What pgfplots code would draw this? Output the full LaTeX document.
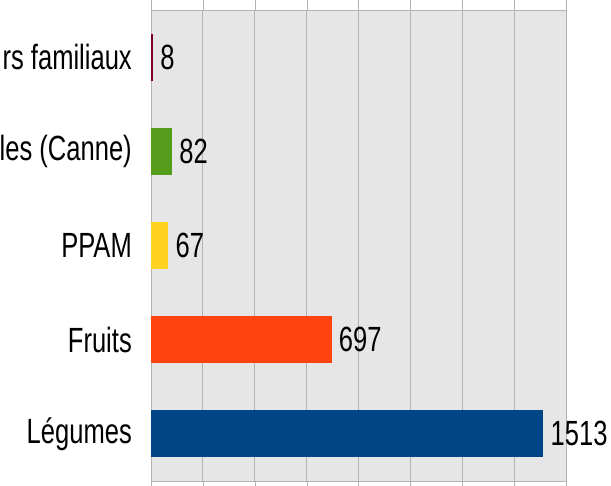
\documentclass[border=0pt]{standalone}
\usepackage{pgfplots}
\pgfplotsset{compat=1.18}
\usepackage{fontspec}
\setmainfont{Liberation Sans}[FakeStretch=0.73]
\definecolor{cRed}{HTML}{7E0021}
\definecolor{cGreen}{HTML}{579D1C}
\definecolor{cYellow}{HTML}{FFD320}
\definecolor{cOrange}{HTML}{FF420E}
\definecolor{cBlue}{HTML}{004586}
\definecolor{cBack}{HTML}{E6E6E6}
\definecolor{cGrid}{HTML}{B3B3B3}
\begin{document}
\begin{tikzpicture}
\useasboundingbox (0,0) rectangle (611bp,486bp);
\clip (0,0) rectangle (611bp,486bp);
\begin{axis}[
  at={(151bp,5bp)},anchor=south west,
  scale only axis,width=415bp,height=471bp,
  xbar,bar width=0.5,bar shift=0pt,
  xmin=0,xmax=1600,ymin=-0.5,ymax=4.5,
  xtick={0,200,...,1600},xticklabels={},
  ytick={0,1,2,3,4},
  yticklabels={Légumes,Fruits,PPAM,les (Canne),rs familiaux},
  minor ytick={-0.5,0.5,...,4.5},
  major tick length=11bp,
  minor tick length=11bp,
  tick align=outside,
  xtick style={draw=cGrid},
  ytick style={draw=none},
  minor tick style={draw=cGrid},
  xmajorgrids,grid style={draw=cGrid,line width=0.8pt},
  axis line style={draw=cGrid,line width=0.8pt},
  axis background/.style={fill=cBack},
  yticklabel style={font=\fontsize{35bp}{41bp}\selectfont,anchor=east,inner sep=0pt,xshift=-8bp},
  /pgf/number format/assume math mode=true,
  /pgf/number format/1000 sep={},
  nodes near coords,
  nodes near coords style={font=\fontsize{35bp}{41bp}\selectfont,anchor=west,inner sep=0pt,xshift=7bp,text=black},
]
\addplot[fill=cBlue,draw=none] coordinates {(1513,0)};
\addplot[fill=cOrange,draw=none] coordinates {(697,1)};
\addplot[fill=cYellow,draw=none] coordinates {(67,2)};
\addplot[fill=cGreen,draw=none] coordinates {(82,3)};
\addplot[fill=cRed,draw=none] coordinates {(8,4)};
\end{axis}
\end{tikzpicture}
\end{document}
